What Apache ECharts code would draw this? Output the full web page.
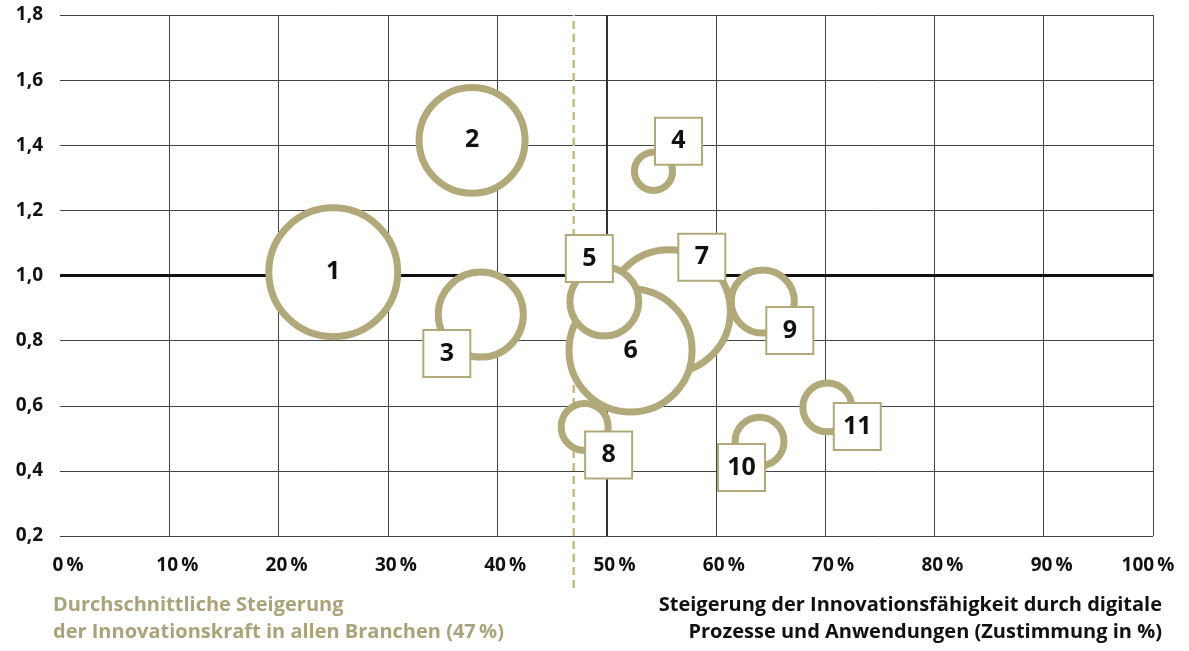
<!DOCTYPE html>
<html>
<head>
<meta charset="utf-8">
<script src="https://cdn.jsdelivr.net/npm/echarts@6/dist/echarts.min.js"></script>
<style>
  html, body { margin: 0; padding: 0; background: #fff; }
  #container { width: 1189px; height: 651px; }
</style>
</head>
<body>
<div id="container"></div>
<script>
  // bubbles, listed in drawing order (later ones sit on top)
  var bubbleNames = ['1', '2', '3', '4', '7', '6', '5', '8', '9', '10', '11'];
  var agreement   = [25.0, 37.7, 38.5, 54.3, 55.7, 52.2, 49.8, 48.0, 64.3, 64.0, 70.2];
  var innovation  = [1.01, 1.415, 0.88, 1.32, 0.89, 0.77, 0.92, 0.535, 0.92, 0.49, 0.595];
  var bubbleValue = [46.2, 31.9, 21.2, 5.1, 42.3, 42.3, 14.4, 7.3, 12.3, 7.8, 7.8];
  var average = 47;

  var xTickLabels = ['0\u2009%', '10\u2009%', '20\u2009%', '30\u2009%', '40\u2009%', '50\u2009%',
                     '60\u2009%', '70\u2009%', '80\u2009%', '90\u2009%', '100\u2009%'];
  var yTickLabels = ['0,2', '0,4', '0,6', '0,8', '1,0', '1,2', '1,4', '1,6', '1,8'];

  var tan = '#b1a97a';
  var font = '"Open Sans", "Noto Sans", sans-serif';

  // where the number box sits relative to its bubble centre
  var boxOffset = {
    '3': [-34, 39], '4': [25, -30], '5': [-15, -43], '7': [33, -54],
    '8': [24, 28], '9': [27, 29], '10': [-18, 26], '11': [30, 19]
  };

  var dom = document.getElementById('container');
  var myChart = echarts.init(dom, null, { renderer: 'canvas' });

  var bubbleData = bubbleNames.map(function (name, i) {
    var item = { name: name, value: [agreement[i], innovation[i], bubbleValue[i]] };
    if (boxOffset[name]) {
      item.label = {
        offset: boxOffset[name],
        backgroundColor: '#fff',
        borderColor: tan,
        borderWidth: 2,
        width: 45,
        lineHeight: 45
      };
    }
    return item;
  });

  var titleText = { fontFamily: font, fontWeight: 'bold', fontSize: 20, lineHeight: 27 };

  var option = {
    animation: false,
    title: [
      {
        text: 'Durchschnittliche Steigerung\nder Innovationskraft in allen Branchen (47\u2009%)',
        left: 53, top: 592, padding: 0,
        textStyle: Object.assign({ color: '#aaa279' }, titleText)
      },
      {
        text: 'Steigerung der Innovationsfähigkeit durch digitale',
        right: 27, top: 592, padding: 0,
        textStyle: Object.assign({ color: '#111' }, titleText)
      },
      {
        text: 'Prozesse und Anwendungen (Zustimmung in %)',
        right: 27, top: 619, padding: 0,
        textStyle: Object.assign({ color: '#111' }, titleText)
      }
    ],
    grid: [
      { left: 60, right: 36, top: 15, bottom: 115 },
      { left: 60, right: 36, top: 15, bottom: 63 }
    ],
    xAxis: [
      {
        type: 'value', min: 0, max: 100, interval: 10,
        axisLine: { show: false }, axisTick: { show: false },
        splitLine: { show: true, showMinLine: false, lineStyle: { color: '#444', width: 1 } },
        axisLabel: {
          margin: 20, color: '#111', fontFamily: font, fontWeight: 'bold', fontSize: 19,
          padding: [0, 0, 0, 16],
          formatter: function (v) {
            var i = Math.round(v / 10);
            return i === 10 ? '{last|' + xTickLabels[i] + '}' : xTickLabels[i];
          },
          rich: {
            last: { padding: [0, 26, 0, 0], color: '#111', fontFamily: font, fontWeight: 'bold', fontSize: 19 }
          }
        }
      },
      { type: 'value', gridIndex: 1, min: 0, max: 100, show: false }
    ],
    yAxis: [
      {
        type: 'value', min: 0.2, max: 1.8, interval: 0.2,
        axisLine: { show: false }, axisTick: { show: false },
        splitLine: { show: true, lineStyle: { color: '#444', width: 1 } },
        axisLabel: {
          margin: 17, color: '#111', fontFamily: font, fontWeight: 'bold', fontSize: 19,
          formatter: function (v) { return yTickLabels[Math.round((v - 0.2) / 0.2)]; }
        }
      },
      { type: 'value', gridIndex: 1, min: 0, max: 1, show: false }
    ],
    series: [
      {
        // thicker reference lines at 1,0 and 50 %
        type: 'line', data: [], silent: true, z: 1,
        markLine: {
          z: 1, silent: true, symbol: 'none', animation: false,
          label: { show: false },
          emphasis: { disabled: true },
          data: [
            { yAxis: 1.0, lineStyle: { color: '#111', width: 3, type: 'solid' } },
            { xAxis: 50, lineStyle: { color: '#333', width: 2, type: 'solid' } }
          ]
        }
      },
      {
        // average line (47 %), reaching below the plot
        type: 'line', xAxisIndex: 1, yAxisIndex: 1, silent: true, z: 1,
        symbol: 'none',
        data: [[average, 0], [average, 1]],
        lineStyle: { color: '#c2ba8f', width: 2.5, type: [8, 5] }
      },
      {
        type: 'scatter', z: 3, silent: true,
        data: bubbleData,
        symbolSize: function (val) { return 20 * Math.sqrt(val[2]) - 7; },
        itemStyle: { color: '#fff', borderColor: tan, borderWidth: 7, opacity: 1 },
        emphasis: { disabled: true },
        label: {
          show: true, position: 'inside',
          formatter: '{b}',
          color: '#111', fontFamily: font, fontWeight: 'bold', fontSize: 25,
          align: 'center', verticalAlign: 'middle'
        }
      }
    ]
  };

  myChart.setOption(option);
  window.addEventListener('resize', myChart.resize);
</script>
</body>
</html>
